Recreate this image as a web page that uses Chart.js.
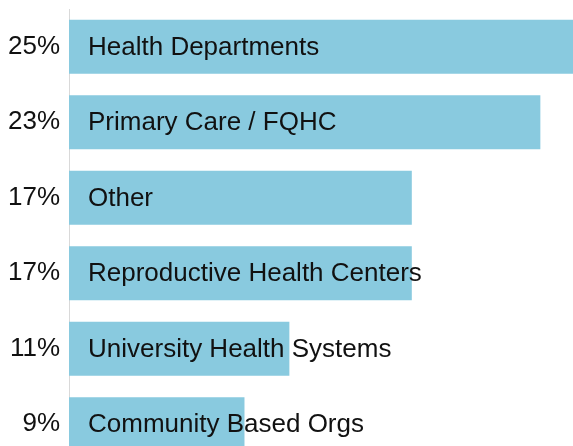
<!DOCTYPE html>
<html>
<head>
<meta charset="utf-8">
<script src="https://cdn.jsdelivr.net/npm/chart.js@4"></script>
<style>
  html, body { margin: 0; padding: 0; background: #fff; overflow: hidden; }
  .wrap { position: relative; width: 573px; height: 462px; }
</style>
</head>
<body>
<div class="wrap"><canvas id="chartSectors"></canvas></div>
<script>
// categories, shares and printed labels
const sectors = ['Health Departments', 'Primary Care / FQHC', 'Other', 'Reproductive Health Centers', 'University Health Systems', 'Community Based Orgs'];
const shares = [25.2, 23.1, 16.8, 16.8, 10.8, 8.6];
const shareLabels = ['25%', '23%', '17%', '17%', '11%', '9%'];

const FONT = '"Liberation Sans", Arial, sans-serif';

// writes the sector name inside each bar, near its base
const barNames = {
  id: 'barNames',
  afterDatasetsDraw(chart) {
    const ctx = chart.ctx;
    const meta = chart.getDatasetMeta(0);
    ctx.save();
    ctx.font = '26px ' + FONT;
    ctx.fillStyle = '#111';
    ctx.textAlign = 'left';
    ctx.textBaseline = 'middle';
    meta.data.forEach((bar, i) => {
      ctx.fillText(sectors[i], bar.base + 19, bar.y + 1);
    });
    ctx.restore();
  }
};

new Chart(document.getElementById('chartSectors'), {
  type: 'bar',
  data: {
    labels: shareLabels,
    datasets: [{ data: shares, backgroundColor: '#89cadf', borderWidth: 0, categoryPercentage: 1, barPercentage: 0.716 }]
  },
  options: {
    indexAxis: 'y',
    responsive: true, maintainAspectRatio: false, animation: false,
    layout: { padding: { top: 9, right: 0, bottom: 0, left: 0 } },
    plugins: { legend: { display: false }, tooltip: { enabled: false } },
    scales: {
      x: { display: false, min: 0, max: 24.7 },
      y: {
        grid: { display: false, drawTicks: false },
        border: { display: true, color: '#d9d9d9', width: 1 },
        ticks: { padding: 9, color: '#111', font: { family: FONT, size: 26 } },
        afterFit(scale) { scale.width = 69; scale.paddingTop = 0; scale.paddingBottom = 0; }
      }
    }
  },
  plugins: [barNames]
});
</script>
</body>
</html>
